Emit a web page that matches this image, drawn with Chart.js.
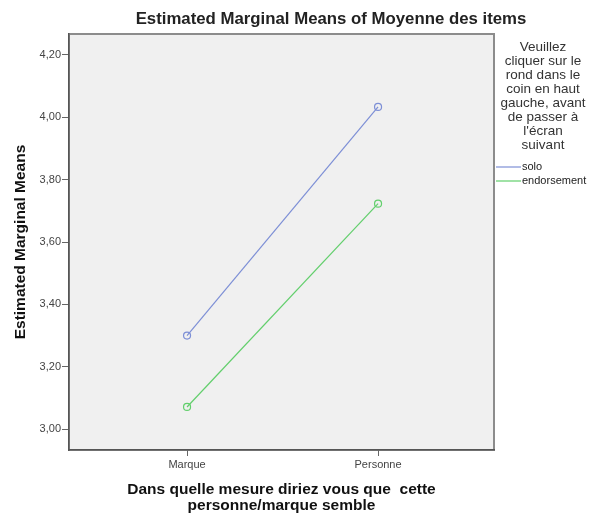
<!DOCTYPE html>
<html>
<head>
<meta charset="utf-8">
<script src="https://cdn.jsdelivr.net/npm/chart.js@4/dist/chart.umd.min.js"></script>
<style>
  html, body { margin: 0; padding: 0; background: #fff; }
  #wrap { width: 590px; height: 514px; }
</style>
</head>
<body>
<div id="wrap"><canvas id="chart" width="590" height="514"></canvas></div>
<script>
// data
const categories = ['Marque', 'Personne'];
const seriesNames = ['solo', 'endorsement'];
const soloValues = [3.30, 4.033];
const endorsementValues = [3.071, 3.723];
const yTicks = [3.00, 3.20, 3.40, 3.60, 3.80, 4.00, 4.20];

const titleText = 'Estimated Marginal Means of Moyenne des items';
const yTitle = 'Estimated Marginal Means';
const xTitle = ['Dans quelle mesure diriez vous que  cette', 'personne/marque semble'];
const legendTitle = ['Veuillez', 'cliquer sur le', 'rond dans le', 'coin en haut',
    'gauche, avant', 'de passer à', "l'écran", 'suivant'];

const COLORS = ['#7d8fd6', '#62cf6c'];
const FONT = '"Liberation Sans", Arial, sans-serif';

const toPoints = vals => vals.map((v, i) => ({ x: i + 1, y: v }));

// plot background + frame, title, legend
const decor = {
    id: 'decor',
    beforeDraw(chart) {
        const { ctx, chartArea: a } = chart;
        ctx.save();
        ctx.fillStyle = '#f0f0f0';
        ctx.fillRect(a.left, a.top, a.right - a.left, a.bottom - a.top);
        ctx.strokeStyle = '#8c8c8c';
        ctx.lineWidth = 2;
        ctx.strokeRect(a.left, a.top, a.right - a.left, a.bottom - a.top);
        ctx.restore();
    },
    afterDraw(chart) {
        const { ctx, chartArea: a } = chart;
        ctx.save();
        // title
        ctx.fillStyle = '#222';
        ctx.font = 'bold 16.8px ' + FONT;
        ctx.textAlign = 'center';
        ctx.textBaseline = 'middle';
        ctx.fillText(titleText, 331, 19);

        // legend
        const lx = a.right + 2;
        ctx.fillStyle = '#333';
        ctx.font = '13.5px ' + FONT;
        legendTitle.forEach((t, i) => {
            ctx.fillText(t, 543, 47 + i * 14);
        });
        ctx.font = '11px ' + FONT;
        ctx.textAlign = 'left';
        chart.data.datasets.forEach((ds, i) => {
            const y = 167 + i * 14;
            ctx.strokeStyle = ds.borderColor;
            ctx.lineWidth = 1.2;
            ctx.beginPath();
            ctx.moveTo(lx, y);
            ctx.lineTo(lx + 25, y);
            ctx.stroke();
            ctx.fillStyle = '#222';
            ctx.fillText(ds.label, lx + 26, y);
        });
        ctx.restore();
    }
};

new Chart(document.getElementById('chart'), {
    type: 'line',
    data: {
        datasets: [
            { label: seriesNames[0], data: toPoints(soloValues), borderColor: COLORS[0] },
            { label: seriesNames[1], data: toPoints(endorsementValues), borderColor: COLORS[1] }
        ]
    },
    options: {
        responsive: false,
        animation: false,
        devicePixelRatio: 1,
        layout: { padding: { left: 0, top: 34, right: 96, bottom: 0 } },
        elements: {
            line: { borderWidth: 1.2, tension: 0, fill: false },
            point: { radius: 3.5, borderWidth: 1.2, backgroundColor: 'rgba(0,0,0,0)', hoverRadius: 3.5 }
        },
        plugins: {
            legend: { display: false },
            title: { display: false },
            tooltip: { enabled: false }
        },
        scales: {
            x: {
                type: 'linear',
                min: 0.382,
                max: 2.607,
                afterBuildTicks: s => { s.ticks = categories.map((c, i) => ({ value: i + 1 })); },
                afterFit: s => { s.height = 64; },
                ticks: {
                    callback: v => categories[v - 1],
                    font: { family: FONT, size: 11 },
                    color: '#444',
                    padding: 2,
                    maxRotation: 0
                },
                grid: { drawOnChartArea: false, tickLength: 6, color: '#666' },
                border: { color: '#555', width: 1.5 },
                title: {
                    display: true,
                    text: xTitle,
                    font: { family: FONT, size: 15.5, weight: 'bold', lineHeight: 16 / 15.5 },
                    color: '#111',
                    padding: { top: 0, bottom: 0 }
                }
            },
            y: {
                min: 2.933,
                max: 4.267,
                afterBuildTicks: s => { s.ticks = yTicks.map(v => ({ value: v })); },
                afterFit: s => { s.width = 69; },
                ticks: {
                    callback: v => v.toFixed(2).replace('.', ','),
                    font: { family: FONT, size: 11 },
                    color: '#444',
                    padding: 1
                },
                grid: { drawOnChartArea: false, tickLength: 7, color: '#666' },
                border: { color: '#555', width: 1.5 },
                title: {
                    display: true,
                    text: yTitle,
                    font: { family: FONT, size: 15.5, weight: 'bold', lineHeight: 1 },
                    color: '#111',
                    padding: { top: 13, bottom: 0 }
                }
            }
        }
    },
    plugins: [decor]
});
</script>
</body>
</html>
